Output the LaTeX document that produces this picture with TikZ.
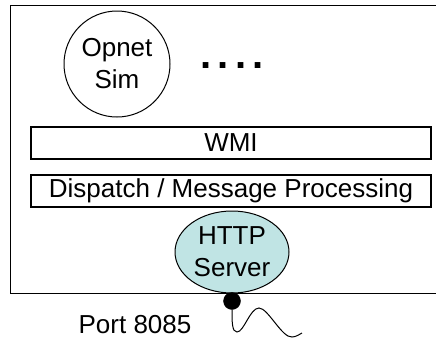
\documentclass[tikz,border=0pt]{standalone}
\usepackage{fontspec}
\setmainfont{Liberation Sans}
\usetikzlibrary{shapes.geometric}
\definecolor{serverfill}{RGB}{192,228,228}
\begin{document}
\begin{tikzpicture}[x=1pt,y=-1pt,
  lbl/.style={font=\fontsize{26}{32}\selectfont, inner sep=0pt},
  layer/.style={lbl, draw, line width=1.1pt, minimum width=400pt, minimum height=32pt},
  sim/.style={lbl, draw, line width=1pt, circle, minimum size=106pt, align=center},
  server/.style={lbl, draw, line width=1pt, ellipse, fill=serverfill, minimum width=114pt, minimum height=82pt, align=center},
  port/.style={circle, fill=black, draw=black, minimum size=17pt, inner sep=0pt},
  cable/.style={line width=1pt}]
\useasboundingbox (0,0) rectangle (436,341);

% host frame, open on the right
\draw[line width=1pt] (436,5) -- (10,5) -- (10,293) -- (436,293);

% components
\node[sim] (opnet) at (117,64) {Opnet\\Sim};
\node[font=\fontsize{40}{40}\selectfont\bfseries, inner sep=0pt] (more) at (232,66)
  {.\kern6pt.\kern6pt.\kern6pt.};
\node[layer] (wmi) at (231,143) {WMI};
\node[layer] (dispatch) at (231,191) {Dispatch / Message Processing};
\node[server] (http) at (232,252) {HTTP\\Server};

% network port and cable
\node[port] (p8085) at (232,301) {};
\node[lbl, anchor=center] (portlbl) at (135,325) {Port 8085};
\coordinate (cableend) at (302,333);
\draw[cable] (p8085.south) .. controls (232,322) and (232,332) .. (237,332)
  .. controls (244,332) and (250,308) .. (259,308)
  .. controls (268,308) and (282,338) .. (292,337)
  .. controls (296,337) and (300,334) .. (cableend);
\end{tikzpicture}
\end{document}
